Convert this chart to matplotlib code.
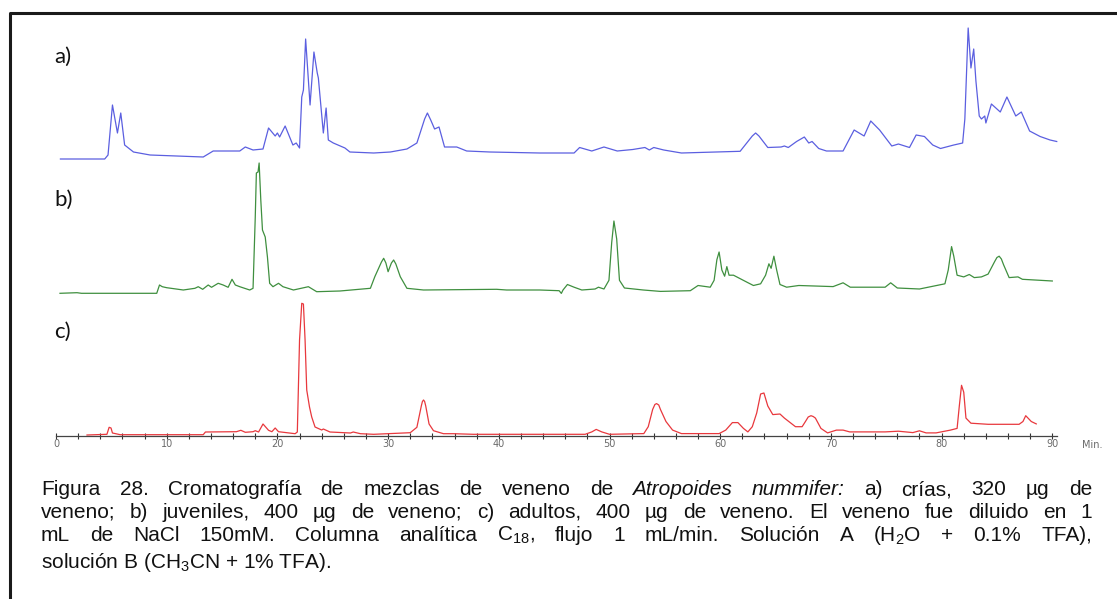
import matplotlib
matplotlib.use("Agg")
import numpy as np
import matplotlib.pyplot as plt
from matplotlib.lines import Line2D

# tiempos (min) y señal de cada cromatograma
t_a = [0.4, 4.4, 4.7, 5.1, 5.55, 5.85, 6.2, 7.0, 8.5, 13.3, 14.2, 16.6, 17.1, 17.8, 18.7,
       19.2, 19.8, 20.0, 20.2, 20.7, 21.4, 21.7, 22.0, 22.2, 22.35, 22.55, 22.95, 23.3, 23.6,
       23.7, 24.15, 24.4, 24.6, 25.05, 26.1, 26.55, 28.7, 30.2, 31.7, 32.6, 33.3, 33.55, 33.85,
       34.2, 34.6, 35.1, 36.2, 37.1, 39.2, 43.7, 46.8, 47.3, 48.4, 49.5, 50.7, 52.1, 53.2, 53.6,
       54.0, 54.9, 56.5, 61.8, 62.9, 63.2, 63.5, 64.3, 65.5, 65.8, 66.15, 66.9, 67.6, 68.0,
       68.3, 68.9, 69.6, 71.1, 72.1, 73.0, 73.6, 74.4, 75.5, 76.1, 77.1, 77.7, 78.45, 79.2,
       79.9, 81.1, 81.9, 82.1, 82.4, 82.65, 82.9, 83.1, 83.4, 83.6, 83.9, 84.0, 84.5, 85.3,
       85.9, 86.7, 87.2, 87.95, 88.9, 89.8, 90.4]
s_a = [1, 1, 5, 55, 27, 47, 15, 8, 5, 3, 9, 9, 13, 10, 11,
       32, 24, 27, 23, 34, 15, 17, 12, 63, 70, 121, 55, 108, 87,
       82, 27, 52, 20, 17, 12, 8, 7, 8, 11, 17, 41, 47, 40,
       31, 33, 13, 13, 9, 8, 7, 7, 12.5, 9, 13, 9, 10.5, 12.5, 10,
       12.5, 10, 7, 8.7, 24, 27, 24, 12.5, 13, 14, 12.5, 18.5, 23, 17,
       18.5, 11.5, 9, 9, 30, 24, 39, 30, 14, 16, 12.5, 25, 23.5, 15,
       11.5, 15, 17, 41, 132, 92, 111, 79, 44, 41, 44, 37, 56, 48,
       63, 44, 48, 29, 23.5, 20, 18.5]

t_b = [0.36, 1.9, 2.3, 9.1, 9.35, 9.6, 10.0, 11.5, 12.55, 12.85, 13.25, 13.75, 14.05, 14.65,
       15.1, 15.55, 15.9, 16.2, 16.6, 17.5, 17.8, 18.0, 18.1, 18.25, 18.35, 18.5, 18.65, 18.9,
       19.1, 19.3, 19.6, 20.1, 20.5, 21.45, 22.8, 23.55, 25.65, 28.4, 28.8, 29.4, 29.6, 29.8,
       30.0, 30.3, 30.5, 30.7, 31.1, 31.7, 33.2, 39.8, 40.7, 43.7, 45.45, 45.65, 45.8, 46.2,
       46.8, 47.5, 48.7, 49.0, 49.5, 49.95, 50.2, 50.4, 50.65, 50.9, 51.35, 53.05, 54.6, 57.3,
       58.0, 59.1, 59.45, 59.7, 59.9, 60.15, 60.4, 60.6, 60.8, 61.2, 62.4, 63.0, 63.65, 64.1,
       64.4, 64.6, 64.85, 65.1, 65.4, 66.0, 67.1, 70.2, 71.1, 71.75, 74.9, 75.4, 76.0, 78.0,
       80.3, 80.6, 80.9, 81.1, 81.4, 82.0, 82.5, 82.95, 83.6, 84.2, 84.8, 85.0, 85.2, 85.4,
       85.6, 86.1, 86.9, 87.3, 88.9, 90.0]
s_b = [1.7, 2.3, 1.7, 1.7, 10, 8.3, 7.3, 5, 6.7, 8.3, 5.7, 10, 7.7, 11.7,
       10, 7.7, 15.7, 10, 8.3, 5, 6.7, 78, 122, 123, 132, 95, 65, 58,
       38, 11.7, 8.3, 11.7, 8.3, 5, 8.3, 3.3, 4, 6.7, 18.3, 33, 36.7, 32,
       23.3, 32, 35, 31, 18.3, 6.7, 5, 5.7, 5, 5, 4.3, 1.6, 5, 10.5,
       7.8, 5, 6, 7.8, 6, 14.7, 52.6, 74, 56, 14.7, 7, 5, 3.6, 4.3,
       9.5, 7.8, 14.7, 35.3, 43, 25, 18.8, 28.4, 19.8, 19.8, 12.9, 9.5, 11.2, 19.8,
       31.2, 26.7, 38.8, 25, 10.5, 7.8, 9.5, 8.4, 12.2, 7.8, 7.8, 12.2, 7, 6,
       11.2, 25, 48.4, 38.8, 19.8, 18.1, 20.5, 17.4, 18.1, 20.9, 33.6, 37.5, 38.8, 36,
       30.2, 17.4, 18.1, 15.7, 14.7, 14]

t_c = [2.8, 4.6, 4.8, 4.97, 5.1, 5.8, 13.3, 13.5, 16.3, 16.7, 17.1, 17.8, 18.0, 18.3, 18.7,
       19.2, 19.5, 19.8, 20.1, 21.6, 21.8, 22.0, 22.2, 22.35, 22.5, 22.65, 22.9, 23.1, 23.4,
       24.0, 24.15, 24.75, 26.6, 26.85, 27.5, 28.7, 31.4, 32.0, 32.6, 33.0, 33.1, 33.2, 33.3,
       33.4, 33.7, 34.1, 35.0, 35.9, 37.7, 45.5, 47.8, 48.4, 48.8, 49.3, 50.0, 53.1, 53.5,
       53.9, 54.1, 54.25, 54.45, 54.6, 55.1, 55.7, 56.5, 59.9, 60.5, 61.1, 61.6, 62.1, 62.5,
       62.9, 63.3, 63.65, 63.95, 64.3, 64.75, 65.4, 65.8, 66.8, 67.4, 67.7, 67.95, 68.2, 68.4,
       68.6, 69.1, 69.7, 70.5, 71.1, 71.7, 74.9, 76.1, 77.4, 78.0, 78.6, 79.5, 80.8, 81.4,
       81.6, 81.8, 82.0, 82.2, 82.65, 84.2, 87.0, 87.35, 87.6, 88.1, 88.55]
s_c = [1, 1.7, 8.7, 8, 3, 1.3, 1.3, 4, 4.3, 5.7, 3.7, 4.3, 5.3, 4, 12,
       5.7, 4.3, 8, 4.3, 2.3, 4, 96, 132.7, 132, 96, 46, 29, 19, 9,
       6, 7, 4, 3, 4, 2.3, 1.7, 3, 3.3, 8.7, 30, 34.5, 36, 34.5,
       30, 12, 5.3, 2.3, 2.3, 1.7, 1.7, 1.7, 4.1, 6.6, 4.1, 1.7, 2.4, 9.3,
       26.6, 31.5, 32.4, 31, 26.6, 14.5, 5.9, 2.4, 2.4, 5.9, 13.4, 13.4, 7.6, 4.1,
       9.3, 23.1, 42, 43, 30, 21.4, 22, 17.9, 9.3, 9.3, 14.5, 19, 20.3, 19.5,
       17.9, 7.6, 3.1, 5.9, 5.9, 4.1, 4.1, 4.8, 3.4, 5.2, 3.1, 3.1, 5.9, 7.6,
       30, 50.7, 43.8, 17.9, 12.8, 11.7, 11.7, 14.5, 20.3, 14.5, 12.1]

major_ticks = [0, 10, 20, 30, 40, 50, 60, 70, 80, 90]
minor_ticks = list(range(0, 91, 2))

W, H = 1117, 599
fig = plt.figure(figsize=(W / 100, H / 100), dpi=100)

def fx(px):
    return px / W

def fy(py):
    return 1 - py / H

# marco del recuadro (continúa fuera de la imagen)
fig.add_artist(Line2D([fx(10), fx(10), fx(1125)], [fy(610), fy(13), fy(13)],
                      transform=fig.transFigure, color='#1a1a1a', lw=2.2))

# eje: 0 min en x=56 px, 11.07 px/min, base en y=436 px
x0_px, ppm, base_px = 56, 11.07, 436
ax = fig.add_axes([fx(x0_px), fy(base_px), (92 * ppm) / W, 420 / H])
ax.set_xlim(0, 92)
ax.set_ylim(0, 420)

off_a, off_b, off_c = 276, 141, 0
ax.plot(t_a, np.array(s_a) + off_a, color='#5b5fe0', lw=0.9)
ax.plot(t_b, np.array(s_b) + off_b, color='#3f8f3f', lw=0.9)
ax.plot(t_c, np.array(s_c) + off_c, color='#e8383d', lw=0.9)

for sp in ['left', 'right', 'top']:
    ax.spines[sp].set_visible(False)
ax.spines['bottom'].set_bounds(0, 90.4)
ax.spines['bottom'].set_color('#444444')
ax.spines['bottom'].set_linewidth(0.9)
ax.set_yticks([])
ax.set_xticks(major_ticks)
ax.set_xticks(minor_ticks, minor=True)
ax.tick_params(axis='x', which='both', direction='inout', length=5, width=0.8,
               color='#333333', labelsize=7, labelcolor='#6a6a6a', pad=0)
ax.patch.set_visible(False)

fig.text(fx(1082), fy(445), 'Min.', fontsize=7, color='#6a6a6a', va='center')

# etiquetas a) b) c)
for lab, ypx in [('a)', 57), ('b)', 200), ('c)', 332)]:
    fig.text(fx(54), fy(ypx), lab, fontsize=16, family='Lato', va='center', color='#111111')

# pie de figura justificado
plt.rcParams['mathtext.fontset'] = 'custom'
plt.rcParams['mathtext.rm'] = 'Liberation Sans'
plt.rcParams['mathtext.it'] = 'Liberation Sans:italic'
cap_left, cap_right = 41, 1092
fs = 15
renderer = fig.canvas.get_renderer()

lines = [
    ([(w, 'normal') for w in 'Figura 28. Cromatografía de mezclas de veneno de'.split()]
     + [('Atropoides', 'italic'), ('nummifer:', 'italic')]
     + [(w, 'normal') for w in 'a) crías, 320 µg de'.split()], 495),
    ([(w, 'normal') for w in 'veneno; b) juveniles, 400 µg de veneno; c) adultos, 400 µg de veneno. El veneno fue diluido en 1'.split()], 518),
    ([(w, 'normal') for w in ['mL', 'de', 'NaCl', '150mM.', 'Columna', 'analítica',
                              r'$\mathrm{C}_{18}$,', 'flujo', '1', 'mL/min.', 'Solución', 'A',
                              r'($\mathrm{H}_2\mathrm{O}$', '+', '0.1%', 'TFA),']], 541),
]
for tokens, ypx in lines:
    txts = [fig.text(0, fy(ypx), w, fontsize=fs, style=st, family='Liberation Sans',
                     va='baseline', color='#111111') for w, st in tokens]
    widths = [t.get_window_extent(renderer).width for t in txts]
    gap = (cap_right - cap_left - sum(widths)) / (len(txts) - 1)
    x = cap_left
    for t, w in zip(txts, widths):
        t.set_x(fx(x))
        x += w + gap

fig.text(fx(cap_left), fy(568), r'solución B ($\mathrm{CH}_3\mathrm{CN}$ + 1% TFA).',
         fontsize=fs, family='Liberation Sans', va='baseline', color='#111111')

fig.savefig('out.png', dpi=100)
